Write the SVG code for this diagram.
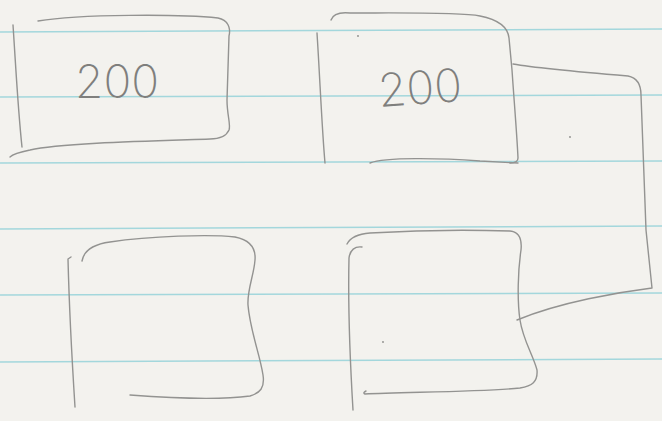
<svg xmlns="http://www.w3.org/2000/svg" width="662" height="421" viewBox="0 0 662 421">
<style>
.rule{stroke:#a3d7dc;stroke-width:1.5;fill:none}
.pen{stroke:#939391;stroke-width:1.4;fill:none;stroke-linecap:round;stroke-linejoin:round}
.lbl{font-family:Inter,"Liberation Sans","DejaVu Sans",sans-serif;font-weight:200;font-size:46px;fill:#7f7f7d;text-anchor:middle}
.speck{fill:#8c8c8a}
</style>
<rect width="662" height="421" fill="#f3f2ee"/>
<g id="paper-lines">
<path class="rule" d="M0 32 L662 29"/>
<path class="rule" d="M0 97 L662 95"/>
<path class="rule" d="M0 163 L662 161"/>
<path class="rule" d="M0 229 L662 226"/>
<path class="rule" d="M0 295 L662 293"/>
<path class="rule" d="M0 362 L662 359"/>
</g>
<g id="connectors">
<path class="pen" d="M513 64 C530 67,580 72,628 76 C638 78,641 85,641 95 L646 230 L652 288 C620 292,560 302,517 320"/>
</g>
<g id="node-top-left">
<path class="pen" d="M13 25 C16 70,18 110,22 147"/>
<path class="pen" d="M38 21 C80 14,180 14,218 18 C228 20,231 28,229 36 L227 100 C227 115,231 125,229 130 C226 137,218 139,210 139 C150 141,60 143,30 150 C20 152,12 155,10 157"/>
<text class="lbl" x="117" y="98">200</text>
</g>
<g id="node-top-right">
<path class="pen" d="M317 33 C320 80,322 130,325 163"/>
<path class="pen" d="M331 20 C333 14,340 12,350 13 C400 13,460 12,480 16 C500 20,508 28,509 38 L512 70 C514 100,517 135,518 158 C518 162,515 163,510 163"/>
<path class="pen" d="M370 163 C385 157,440 158,480 161 L518 163"/>
<text class="lbl" x="420" y="104" transform="rotate(-4 420 88)">200</text>
</g>
<g id="node-bottom-left">
<path class="pen" d="M71 257 L68 259 C69 300,72 360,75 407"/>
<path class="pen" d="M82 261 C84 250,95 244,110 242 C150 236,210 234,235 237 C250 240,256 248,255 260 C254 275,247 290,248 305 C250 330,260 355,263 375 C265 388,260 393,250 396 C220 400,170 398,130 395"/>
</g>
<g id="node-bottom-right">
<path class="pen" d="M362 247 C355 246,350 250,349 258 C348 300,350 360,353 410"/>
<path class="pen" d="M347 244 C350 238,358 234,370 233 C420 230,480 230,510 231 C520 232,522 240,521 250 C518 270,517 300,520 320 C523 340,533 355,537 370 C538 382,532 386,520 388 C480 392,400 392,365 394 C363 393,364 392,366 391"/>
</g>
<circle class="speck" cx="358" cy="36" r="0.9"/>
<circle class="speck" cx="570" cy="137" r="0.9"/>
<circle class="speck" cx="383" cy="342" r="0.9"/>
</svg>
